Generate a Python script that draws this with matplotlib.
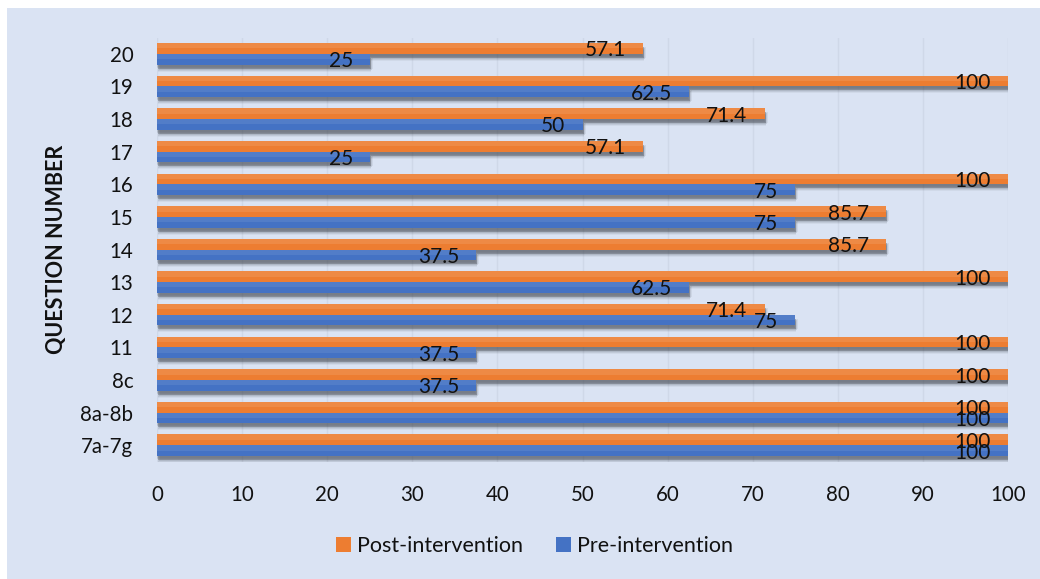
import numpy as np
import matplotlib
matplotlib.use("Agg")
import matplotlib.pyplot as plt
from matplotlib.patches import Rectangle
from matplotlib.transforms import offset_copy

plt.rcParams['font.family'] = ['Lato', 'DejaVu Sans']

# Question groups, listed top to bottom
questions = ["20", "19", "18", "17", "16", "15", "14", "13", "12", "11", "8c", "8a-8b", "7a-7g"]
post_scores = [57.1, 100, 71.4, 57.1, 100, 85.7, 85.7, 100, 71.4, 100, 100, 100, 100]
pre_scores = [25, 62.5, 50, 25, 75, 75, 37.5, 62.5, 75, 37.5, 37.5, 100, 100]
x_ticks = [0, 10, 20, 30, 40, 50, 60, 70, 80, 90, 100]

ORANGE = "#ED7D31"
BLUE = "#4472C4"
BG = "#DAE3F3"
TXT = "#111111"

fig = plt.figure(figsize=(10.4, 5.79), dpi=100, facecolor="white")
# chart area panel
fig.patches.append(Rectangle((7 / 1040, 0), 1 - 7 / 1040, 1 - 8 / 579,
                             transform=fig.transFigure, facecolor=BG,
                             edgecolor="none", zorder=-5))

ax = fig.add_axes([157 / 1040, 1 - 461.5 / 579, (1008 - 157) / 1040, (461.5 - 37.5) / 579])
ax.set_facecolor("none")

y = np.arange(len(questions))
h = 0.33

# soft drop shadows under every bar
shadow_offsets = [(1, -4, 0.30), (0, -3, 0.12), (2, -5, 0.12), (1, -6, 0.10),
                  (3, -4, 0.08), (-1, -2, 0.06), (1, -7, 0.06)]
for dx, dy, a in shadow_offsets:
    tr = offset_copy(ax.transData, fig=fig, x=dx, y=dy, units="dots")
    for vals, pos in ((post_scores, y - h / 2), (pre_scores, y + h / 2)):
        bars = ax.barh(pos, vals, height=h, color="#3a3f48", alpha=a,
                       linewidth=0, zorder=1)
        for p in bars:
            p.set_transform(tr)

post_bars = ax.barh(y - h / 2, post_scores, height=h, color=ORANGE, linewidth=0,
                    zorder=3, label="Post-intervention")
pre_bars = ax.barh(y + h / 2, pre_scores, height=h, color=BLUE, linewidth=0,
                   zorder=3, label="Pre-intervention")

# light sheen on the upper part of each bar
ax.barh(y - h / 2 - h * 0.25, post_scores, height=h * 0.5, color="white",
        alpha=0.10, linewidth=0, zorder=4)
ax.barh(y + h / 2 - h * 0.25, pre_scores, height=h * 0.5, color="white",
        alpha=0.08, linewidth=0, zorder=4)


def fmt(v):
    return f"{v:g}"


for vals, pos in ((post_scores, y - h / 2), (pre_scores, y + h / 2)):
    for v, yy in zip(vals, pos):
        ax.annotate(fmt(v), xy=(v, yy), xytext=(-17, -2), textcoords="offset pixels",
                    ha="right", va="center", fontsize=15, color=TXT, zorder=6)

ax.set_xlim(0, 100)
ax.set_ylim(len(questions) - 0.5, -0.5)
ax.set_xticks(x_ticks)
ax.set_xticklabels([str(t) for t in x_ticks])
ax.set_yticks(y)
ax.set_yticklabels(questions)
ax.tick_params(axis="both", length=0, labelsize=14.8, colors=TXT)
ax.tick_params(axis="x", pad=17)
ax.tick_params(axis="y", pad=17)
for s in ax.spines.values():
    s.set_visible(False)
ax.xaxis.grid(True, color="#CFD8E8", linewidth=1, zorder=0)
ax.set_axisbelow(True)

ax.set_ylabel("QUESTION NUMBER", fontsize=15.5, fontweight="bold", color=TXT)
ax.yaxis.set_label_coords((67 - 157) / 851, 0.5)

handles = [post_bars, pre_bars]
fig.legend(handles, ["Post-intervention", "Pre-intervention"], loc="center",
           bbox_to_anchor=(534.5 / 1040, 1 - 546 / 579), ncol=2, frameon=False,
           fontsize=15.5, handlelength=0.7, handleheight=0.7, handletextpad=0.3,
           columnspacing=1.5, labelcolor=TXT)

fig.savefig("out.png", dpi=100, facecolor="white")
